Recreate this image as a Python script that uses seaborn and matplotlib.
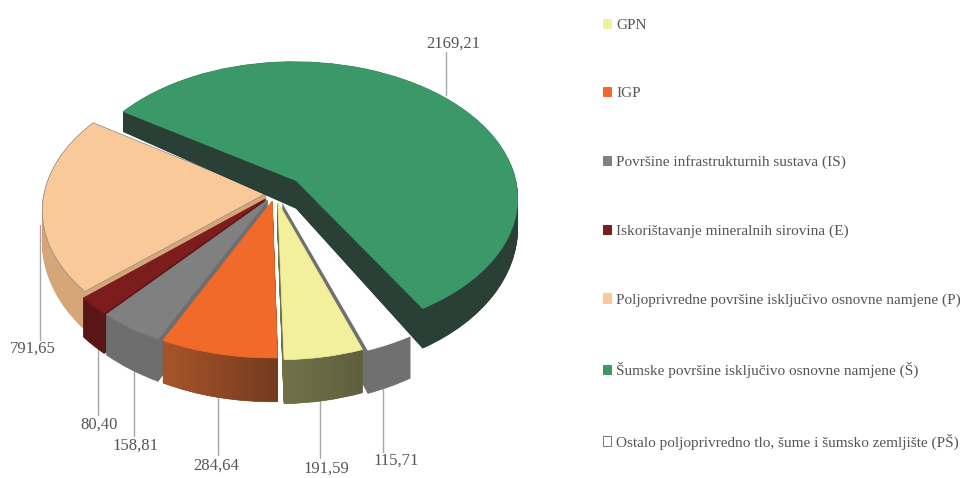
#!/usr/bin/env python3
"""Exploded 3D style pie chart of land use areas."""

import numpy as np
import matplotlib
matplotlib.use("Agg")
import matplotlib.pyplot as plt
import seaborn as sns
from matplotlib.colors import LinearSegmentedColormap
from matplotlib.patches import Patch
from matplotlib.path import Path
from matplotlib.transforms import Transform

# Data, in legend order (clockwise around the pie)
categories = [
    "GPN",
    "IGP",
    "Površine infrastrukturnih sustava (IS)",
    "Iskorištavanje mineralnih sirovina (E)",
    "Poljoprivredne površine isključivo osnovne namjene (P)",
    "Šumske površine isključivo osnovne namjene (Š)",
    "Ostalo poljoprivredno tlo, šume i šumsko zemljište (PŠ)",
]
values = [191.59, 284.64, 158.81, 80.40, 791.65, 2169.21, 115.71]

# Styling per slice
top_colors = ["#f3f09b", "#f26a2a", "#808080", "#7c1c1c", "#f9c999", "#3a9869", "#ffffff"]
wall_colors = ["#6b6b45", "#8a4a22", "#6e6e6e", "#5a1616", "#d6a679", "#2a3f35", "#707070"]
explode = [0.07, 0.06, 0.06, 0.06, 0.04, 0.133, 0.08]
draw_rank = [6, 7, 5, 4, 1, 3, 2]
wall_gradients = {0: ("#73734a", "#5f5f3e"), 1: ("#a8552a", "#753b20")}

# Leader lines (x, y start, y end) and label centres, in picture pixels
leaders = [(320, 395, 458), (218, 395, 455), (134, 365, 436), (98, 345, 415),
           (40, 225, 340), (446, 52, 95), (383, 380, 452)]
label_pos = [(326, 469), (216, 466), (135, 446), (99, 425), (33, 349), (453, 44), (396, 461)]

# Projection of the unit pie onto the picture
CX, CY = 275, 193
RX, RY = 222, 136
K = 0.12
DEPTH_MID, DEPTH_SLOPE = 29, 14
N_LAYERS = 44

TEXT_COLOR = "#555555"

sns.set_theme(style="white")
plt.rcParams["font.family"] = ["Liberation Serif", "DejaVu Serif"]


class PieView(Transform):
    """Perspective view of the pie; t goes from 0 (top face) to 1 (bottom face)."""
    input_dims = 2
    output_dims = 2

    def __init__(self, t=0.0):
        super().__init__()
        self.t = t

    def transform_non_affine(self, xy):
        xy = np.asarray(xy, dtype=float)
        x, y = xy[:, 0], xy[:, 1]
        w = 1 + K * y
        return np.column_stack([
            CX + RX * x / w,
            CY - RY * y / w + self.t * (DEPTH_MID - DEPTH_SLOPE * y),
        ])


def draw_layer(ax, t, colors):
    wedges, _ = ax.pie(values, explode=explode, colors=colors, startangle=-70.5,
                       counterclock=False, radius=1, center=(0, 0), frame=False)
    view = PieView(t)
    for wedge in wedges:
        wedge.set_transform(view + ax.transData)
    return wedges, view


fig = plt.figure(figsize=(9.6, 4.78), dpi=100)
ax = fig.add_axes([0, 0, 1, 1])

# Side walls, stacked from the bottom face upwards
layer_paths = {i: [] for i in range(len(values))}
for layer in range(N_LAYERS, 0, -1):
    wedges, view = draw_layer(ax, layer / N_LAYERS, wall_colors)
    for i, wedge in enumerate(wedges):
        wedge.set_edgecolor(wall_colors[i])
        wedge.set_linewidth(0.5)
        wedge.set_zorder(draw_rank[i] * 100 + (N_LAYERS - layer))
        layer_paths[i].append(view.transform_path(wedge.get_path()))

# Shaded walls for the two front slices
for i, (left, right) in wall_gradients.items():
    wall = Path.make_compound_path(*layer_paths[i])
    x0, y0 = wall.vertices.min(axis=0)
    x1, y1 = wall.vertices.max(axis=0)
    cmap = LinearSegmentedColormap.from_list("wall", [left, right])
    im = ax.imshow(np.linspace(0, 1, 64)[None, :], cmap=cmap, aspect="auto",
                   extent=(x0, x1, y1, y0), zorder=draw_rank[i] * 100 + 80)
    im.set_clip_path(wall, ax.transData)

# Top faces
wedges, _ = draw_layer(ax, 0.0, top_colors)
for i, wedge in enumerate(wedges):
    wedge.set_edgecolor("#8c8c8c" if i == 4 else top_colors[i])
    wedge.set_linewidth(0.5)
    wedge.set_zorder(draw_rank[i] * 100 + 90)

# Value labels with leader lines
for value, (lx, ly0, ly1), (tx, ty) in zip(values, leaders, label_pos):
    ax.plot([lx, lx], [ly0, ly1], color="#a8a8a8", lw=1.0, zorder=1000 if ly1 < 100 else 50)
    ax.text(tx, ty, f"{value:.2f}".replace(".", ","), ha="center", va="center",
            fontsize=12, color=TEXT_COLOR, zorder=1001)

# Legend
handles = [Patch(facecolor=c, edgecolor="#777777" if c == "#ffffff" else c, linewidth=0.7)
           for c in top_colors]
ax.legend(handles, categories, loc="upper left", bbox_to_anchor=(603, 18.5),
          bbox_transform=ax.transData, frameon=False, fontsize=11, labelcolor=TEXT_COLOR,
          handlelength=0.55, handleheight=0.55, handletextpad=0.3, borderpad=0,
          borderaxespad=0, labelspacing=3.62)

ax.set_aspect("auto")
ax.set_xlim(0, 960)
ax.set_ylim(478, 0)
ax.axis("off")

fig.savefig("out.png", dpi=100)
